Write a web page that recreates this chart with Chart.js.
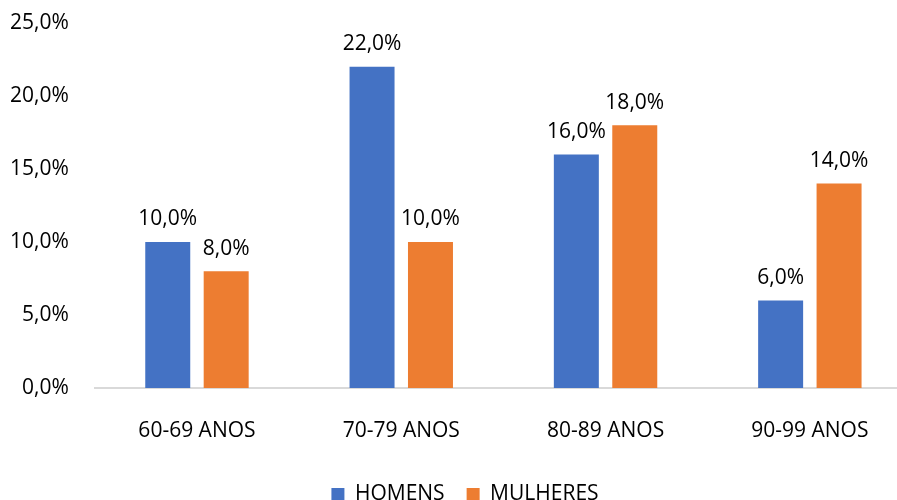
<!DOCTYPE html>
<html>
<head>
<meta charset="utf-8">
<script src="https://cdn.jsdelivr.net/npm/chart.js@4"></script>
<style>
  html, body { margin: 0; padding: 0; background: #fff; }
  #wrap { width: 897px; height: 500px; overflow: hidden; }
</style>
</head>
<body>
<div id="wrap">
  <canvas id="grafico" width="912" height="500"></canvas>
</div>
<script>
var categorias = ["60-69 ANOS", "70-79 ANOS", "80-89 ANOS", "90-99 ANOS"];
var homens = [10, 22, 16, 6];
var mulheres = [8, 10, 18, 14];
var ticksY = [0, 5, 10, 15, 20, 25];

var fonte = "'Open Sans', sans-serif";

function formataPct(v) {
    return v.toFixed(1).replace(".", ",") + "%";
}

// escreve o valor em cima de cada barra
var rotulosBarras = {
    id: "rotulosBarras",
    afterDatasetsDraw: function (chart) {
        var ctx = chart.ctx;
        ctx.save();
        ctx.font = "21px " + fonte;
        ctx.fillStyle = "#000";
        ctx.textAlign = "center";
        ctx.textBaseline = "bottom";
        chart.data.datasets.forEach(function (ds, i) {
            chart.getDatasetMeta(i).data.forEach(function (bar, j) {
                ctx.fillText(formataPct(ds.data[j]), bar.x, bar.y - 12);
            });
        });
        ctx.restore();
    }
};

// legenda um pouco deslocada para a direita
var moveLegenda = {
    id: "moveLegenda",
    afterLayout: function (chart) {
        chart.legend.left += 17;
        chart.legend.right += 17;
    }
};

var ctx = document.getElementById("grafico").getContext("2d");
var grafico = new Chart(ctx, {
    type: "bar",
    data: {
        labels: categorias,
        datasets: [
            { label: "HOMENS", data: homens, backgroundColor: "#4472C4" },
            { label: "MULHERES", data: mulheres, backgroundColor: "#ED7D31" }
        ]
    },
    options: {
        responsive: false,
        animation: false,
        layout: { padding: { left: -16, right: 0, top: 23, bottom: -15 } },
        datasets: { bar: { categoryPercentage: 0.572, barPercentage: 0.77 } },
        scales: {
            x: {
                grid: { display: false, drawTicks: false },
                border: { display: true, color: "#d9d9d9", width: 2 },
                ticks: { color: "#000", padding: 30, font: { family: fonte, size: 21 } },
                afterFit: function (scale) { scale.height = 74; }
            },
            y: {
                min: 0,
                max: 25,
                afterBuildTicks: function (axis) {
                    axis.ticks = ticksY.map(function (v) { return { value: v }; });
                },
                afterFit: function (scale) {
                    scale.paddingTop = 0;
                    scale.paddingBottom = 0;
                },
                grid: { display: false, drawTicks: false },
                border: { display: false },
                ticks: {
                    color: "#000",
                    padding: 26,
                    font: { family: fonte, size: 21 },
                    callback: function (v) { return formataPct(v); }
                }
            }
        },
        plugins: {
            legend: {
                position: "bottom",
                labels: {
                    color: "#000",
                    boxWidth: 13,
                    boxHeight: 13,
                    padding: 22,
                    font: { family: fonte, size: 21 }
                }
            },
            tooltip: { enabled: false }
        }
    },
    plugins: [rotulosBarras, moveLegenda]
});
</script>
</body>
</html>
